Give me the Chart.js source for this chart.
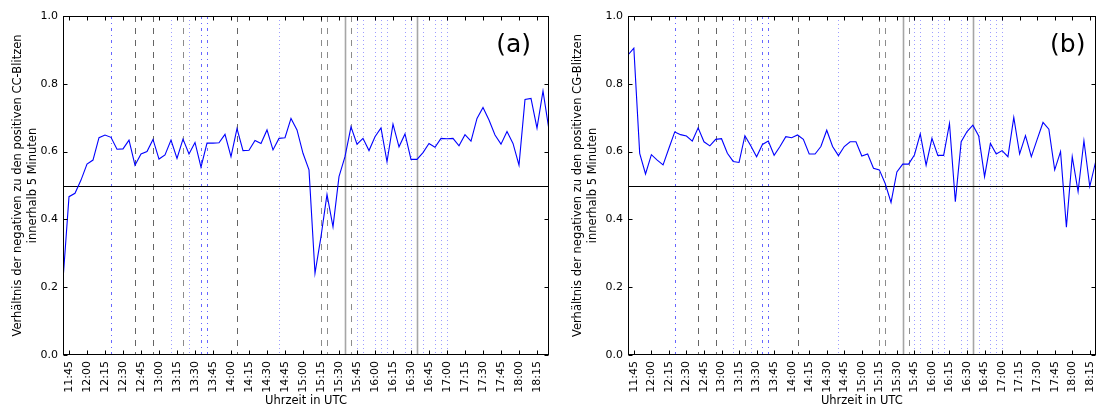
<!DOCTYPE html>
<html>
<head>
<meta charset="utf-8">
<script src="https://cdn.jsdelivr.net/npm/chart.js@4.4.1/dist/chart.umd.min.js"></script>
<style>
  html, body { margin: 0; padding: 0; background: #fff; }
  #wrap { position: relative; width: 1109px; height: 410px; overflow: hidden; }
  .panel { position: absolute; top: 0; height: 410px; }
  #pa { left: 0; width: 560px; }
  #pb { left: 560px; width: 549px; }
</style>
</head>
<body>
<div id="wrap">
  <div class="panel" id="pa"><canvas id="ca"></canvas></div>
  <div class="panel" id="pb"><canvas id="cb"></canvas></div>
</div>
<script>
// ---- categories (5-minute steps, UTC) ----
const times = [
  '11:40','11:45','11:50','11:55',
  '12:00','12:05','12:10','12:15','12:20','12:25','12:30','12:35','12:40','12:45','12:50','12:55',
  '13:00','13:05','13:10','13:15','13:20','13:25','13:30','13:35','13:40','13:45','13:50','13:55',
  '14:00','14:05','14:10','14:15','14:20','14:25','14:30','14:35','14:40','14:45','14:50','14:55',
  '15:00','15:05','15:10','15:15','15:20','15:25','15:30','15:35','15:40','15:45','15:50','15:55',
  '16:00','16:05','16:10','16:15','16:20','16:25','16:30','16:35','16:40','16:45','16:50','16:55',
  '17:00','17:05','17:10','17:15','17:20','17:25','17:30','17:35','17:40','17:45','17:50','17:55',
  '18:00','18:05','18:10','18:15','18:20','18:25'
];

// ---- series (a): CC flashes ----
const valuesCC = [
  0.221,0.467,0.477,0.516,0.563,0.575,0.641,0.649,0.642,0.607,0.608,0.634,0.560,0.593,0.600,0.636,
  0.578,0.590,0.634,0.580,0.637,0.593,0.627,0.554,0.625,0.625,0.626,0.651,0.585,0.668,0.603,0.604,
  0.633,0.624,0.664,0.605,0.639,0.641,0.698,0.664,0.595,0.546,0.241,0.349,0.474,0.378,0.526,0.585,
  0.673,0.622,0.639,0.603,0.644,0.670,0.570,0.681,0.614,0.652,0.577,0.577,0.597,0.624,0.613,0.639,
  0.638,0.639,0.617,0.650,0.631,0.698,0.730,0.693,0.649,0.622,0.659,0.624,0.560,0.754,0.757,0.669,
  0.779,0.664
];

// ---- series (b): CG flashes ----
const valuesCG = [
  0.885,0.905,0.595,0.534,0.591,0.575,0.561,0.610,0.658,0.650,0.646,0.631,0.670,0.629,0.617,0.636,
  0.638,0.595,0.571,0.568,0.647,0.617,0.585,0.621,0.631,0.589,0.615,0.644,0.641,0.649,0.636,0.593,
  0.593,0.615,0.663,0.615,0.588,0.615,0.629,0.629,0.587,0.593,0.551,0.546,0.506,0.450,0.540,0.563,
  0.563,0.590,0.652,0.560,0.639,0.589,0.589,0.683,0.452,0.629,0.659,0.678,0.646,0.526,0.624,0.593,
  0.603,0.585,0.701,0.593,0.647,0.585,0.636,0.686,0.666,0.546,0.600,0.377,0.585,0.482,0.632,0.497,
  0.570
];

// ---- tick labels ----
const xTickLabels = ['11:45','12:00','12:15','12:30','12:45','13:00','13:15','13:30','13:45','14:00',
  '14:15','14:30','14:45','15:00','15:15','15:30','15:45','16:00','16:15','16:30','16:45','17:00',
  '17:15','17:30','17:45','18:00','18:15'];
const yTickValues = [0.0, 0.2, 0.4, 0.6, 0.8, 1.0];

// ---- event markers (vertical lines) ----
const dashedDark  = ['12:40','12:55','14:05'];
const dashedLight = ['13:20','15:15','15:20','15:40'];
const solidLines  = ['15:35','16:35'];
const dashDotLines = ['12:20','13:35','13:40'];
const dottedLines = ['13:10','13:25','14:40','15:45','15:50','16:00','16:05','16:10','16:25','16:30',
  '16:40','16:50','16:55','17:00'];
const threshold = 0.5;

const FONT = '"DejaVu Sans", "Liberation Sans", sans-serif';
const toMin = s => { const p = s.split(':').map(Number); return p[0] * 60 + p[1]; };
const fmt = v => { const h = Math.floor(v / 60), m = Math.round(v % 60); return h + ':' + String(m).padStart(2, '0'); };

const decor = {
  id: 'decor',
  beforeDatasetsDraw(chart, args, opts) {
    const { ctx, chartArea: a, scales: { x, y } } = chart;
    ctx.save();
    ctx.beginPath(); ctx.rect(a.left, a.top, a.right - a.left, a.bottom - a.top); ctx.clip();
    const y0 = y.getPixelForValue(0), y1 = y.getPixelForValue(1);
    const vline = (t, color, width, dash) => {
      const px = Math.round(x.getPixelForValue(toMin(t))) + 0.5;
      ctx.strokeStyle = color; ctx.lineWidth = width; ctx.setLineDash(dash);
      ctx.beginPath(); ctx.moveTo(px, y1); ctx.lineTo(px, y0); ctx.stroke();
    };
    dottedLines.forEach(t => vline(t, 'rgba(0,0,255,0.38)', 1, [1, 3]));
    dashDotLines.forEach(t => vline(t, 'rgba(0,0,255,0.6)', 1, [3, 4, 1, 4]));
    dashedDark.forEach(t => vline(t, '#656565', 1, [6, 6]));
    dashedLight.forEach(t => vline(t, '#8c8c8c', 1, [6, 6]));
    solidLines.forEach(t => vline(t, '#a6a6a6', 1.6, []));
    ctx.setLineDash([]);
    const py = Math.round(y.getPixelForValue(threshold)) + 0.5;
    ctx.strokeStyle = '#000'; ctx.lineWidth = 1;
    ctx.beginPath(); ctx.moveTo(a.left, py); ctx.lineTo(a.right, py); ctx.stroke();
    ctx.restore();
  },
  afterDraw(chart, args, opts) {
    const { ctx, chartArea: a, scales: { x, y } } = chart;
    ctx.save();
    const L = Math.round(a.left) + 0.5, R = Math.round(a.right) - 0.5;
    const T = Math.round(a.top) + 0.5, B = Math.round(a.bottom) - 0.5;
    ctx.strokeStyle = '#000'; ctx.lineWidth = 1; ctx.setLineDash([]);
    ctx.beginPath();
    x.ticks.forEach(tk => {
      const px = Math.round(x.getPixelForValue(tk.value)) + 0.5;
      ctx.moveTo(px, B); ctx.lineTo(px, B - 4);
      ctx.moveTo(px, T); ctx.lineTo(px, T + 4);
    });
    y.ticks.forEach(tk => {
      const py = Math.round(y.getPixelForValue(tk.value)) + 0.5;
      ctx.moveTo(L, py); ctx.lineTo(L + 4, py);
      ctx.moveTo(R, py); ctx.lineTo(R - 4, py);
    });
    ctx.stroke();
    ctx.strokeRect(L, T, R - L, B - T);
    ctx.fillStyle = '#000';
    ctx.font = '25px ' + FONT;
    ctx.textBaseline = 'alphabetic';
    ctx.textAlign = 'left';
    ctx.fillText(opts.label, x.getPixelForValue(opts.lx), y.getPixelForValue(opts.ly));
    ctx.restore();
  }
};

function makeChart(id, vals, xMax, yWidth, yTitle, label, padRight) {
  const pts = vals.map((v, i) => ({ x: toMin(times[i]), y: v }));
  return new Chart(document.getElementById(id), {
    type: 'line',
    data: { datasets: [{ data: pts, borderColor: '#0000ff', borderWidth: 1.1, pointRadius: 0, tension: 0, fill: false }] },
    options: {
      animation: false,
      responsive: true,
      maintainAspectRatio: false,
      devicePixelRatio: 1,
      layout: { padding: { top: 16, right: padRight, left: 0, bottom: 0 } },
      plugins: {
        legend: { display: false },
        tooltip: { enabled: false },
        decor: { label: label, lx: 1061, ly: 0.895 }
      },
      scales: {
        x: {
          type: 'linear', min: toMin(times[0]), max: xMax,
          afterBuildTicks: s => { s.ticks = xTickLabels.map(t => ({ value: toMin(t) })); },
          afterFit: s => { s.height = 55; },
          grid: { display: false, drawTicks: false },
          border: { display: false },
          ticks: { autoSkip: false, minRotation: 90, maxRotation: 90, padding: 6, color: '#000',
                   font: { family: FONT, size: 11 }, callback: v => fmt(v) },
          title: { display: true, text: 'Uhrzeit in UTC', color: '#000',
                   font: { family: FONT, size: 11.5, lineHeight: 1.2 }, padding: { top: 0, bottom: 2 } }
        },
        y: {
          min: 0, max: 1,
          afterBuildTicks: s => { s.ticks = yTickValues.map(v => ({ value: v })); },
          afterFit: s => { s.width = yWidth; },
          grid: { display: false, drawTicks: false },
          border: { display: false },
          ticks: { padding: 5, color: '#000', font: { family: FONT, size: 11 }, callback: v => Number(v).toFixed(1) },
          title: { display: true, text: yTitle, color: '#000',
                   font: { family: FONT, size: 11.5, lineHeight: '15px' }, padding: { top: 10.5, bottom: 0 } }
        }
      }
    },
    plugins: [decor]
  });
}

makeChart('ca', valuesCC, toMin('18:25'), 63,
  ['Verhältnis der negativen zu den positiven CC-Blitzen', 'innerhalb 5 Minuten'], '(a)', 11);
makeChart('cb', valuesCG, toMin('18:20'), 68,
  ['Verhältnis der negativen zu den positiven CG-Blitzen', 'innerhalb 5 Minuten'], '(b)', 2);
</script>
</body>
</html>
